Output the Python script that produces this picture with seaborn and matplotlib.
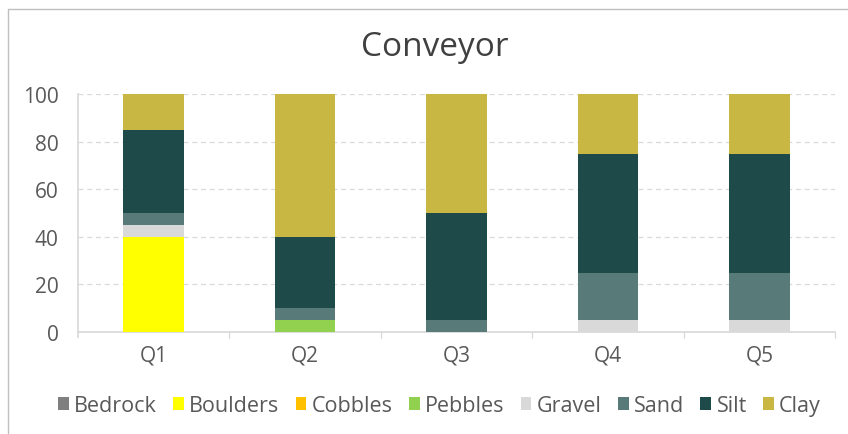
import matplotlib
matplotlib.use("Agg")
import matplotlib.pyplot as plt
from matplotlib.lines import Line2D
from matplotlib.patches import Patch
import seaborn as sns
import numpy as np
import pandas as pd

quarters = ["Q1", "Q2", "Q3", "Q4", "Q5"]
materials = ["Bedrock", "Boulders", "Cobbles", "Pebbles", "Gravel", "Sand", "Silt", "Clay"]
bedrock = [0, 0, 0, 0, 0]
boulders = [40, 0, 0, 0, 0]
cobbles = [0, 0, 0, 0, 0]
pebbles = [0, 5, 0, 0, 0]
gravel = [5, 0, 0, 5, 5]
sand = [5, 5, 5, 20, 20]
silt = [35, 30, 45, 50, 50]
clay = [15, 60, 50, 25, 25]
colors = ["#7f7f7f", "#ffff00", "#ffc000", "#92d050", "#d9d9d9", "#587b79", "#1e4a4a", "#c8b843"]
yticks = [0, 20, 40, 60, 80, 100]

series = [bedrock, boulders, cobbles, pebbles, gravel, sand, silt, clay]

sns.set_theme(style="white")
plt.rcParams["font.family"] = ["Open Sans", "DejaVu Sans"]

fig = plt.figure(figsize=(8.48, 4.35), dpi=100)
ax = fig.add_axes([0.092, 0.2345, 0.893, 0.547])

txt = "#595959"
bottom = np.zeros(len(quarters))
for name, vals, col in zip(materials, series, colors):
    df = pd.DataFrame({"q": quarters, "v": vals})
    sns.barplot(data=df, x="q", y="v", color=col, width=0.4, bottom=bottom,
                ax=ax, saturation=1, linewidth=0, zorder=3)
    bottom = bottom + np.array(vals)

ax.set_ylim(0, 100)
ax.set_xlim(-0.5, 4.5)
ax.set_yticks(yticks)
ax.yaxis.grid(True, linestyle=(0, (4, 3)), color="#d9d9d9", linewidth=0.9, zorder=0)
ax.set_xlabel("")
ax.set_ylabel("")
for s in ["top", "right"]:
    ax.spines[s].set_visible(False)
ax.spines["left"].set_color("#d9d9d9")
ax.spines["bottom"].set_color("#d9d9d9")
ax.spines["left"].set_bounds(-2, 100)
ax.tick_params(axis="y", length=0, pad=14, labelsize=15, labelcolor=txt)
ax.tick_params(axis="x", length=0, pad=9, labelsize=15, labelcolor=txt)
for xb in [0.5, 1.5, 2.5, 3.5, 4.5]:
    ax.plot([xb, xb], [0, -2.5], color="#d9d9d9", lw=0.9, clip_on=False, zorder=1)

fig.text(0.513, 0.89, "Conveyor", ha="center", va="center", fontsize=24, color="#404040")

handles = [Patch(facecolor=c, edgecolor="none") for c in colors]
fig.legend(handles, materials, loc="center", bbox_to_anchor=(0.518, 0.065), ncol=8,
           frameon=False, handlelength=0.5, handleheight=0.5, handletextpad=0.25,
           columnspacing=0.75, fontsize=15.5, labelcolor=txt)

fig.add_artist(Line2D([8/848, 8/848], [0, 1 - 10/435], color="#bfbfbf", lw=1, transform=fig.transFigure))
fig.add_artist(Line2D([8/848, 1], [1 - 10/435, 1 - 10/435], color="#bfbfbf", lw=1, transform=fig.transFigure))

fig.savefig("out.png", dpi=100)
